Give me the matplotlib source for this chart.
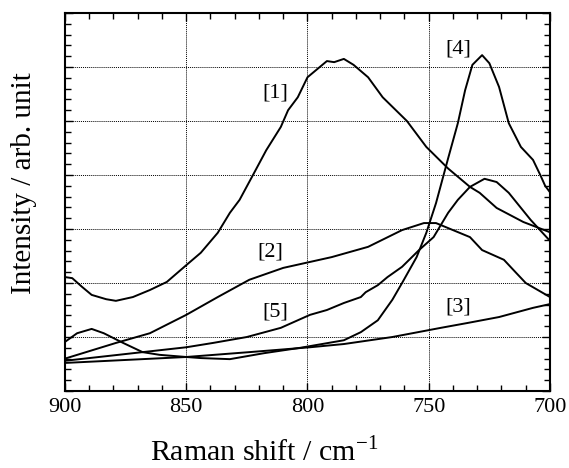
import matplotlib
matplotlib.use("Agg")
import matplotlib.pyplot as plt
from matplotlib.ticker import MultipleLocator, NullFormatter

plt.rcParams['font.family'] = ['Liberation Serif', 'DejaVu Serif']
plt.rcParams['mathtext.fontset'] = 'custom'
plt.rcParams['mathtext.rm'] = 'Liberation Serif'

# ---- data (Raman shift in cm-1, intensity in arb. units) ----
x1 = [900, 897, 893, 889, 883, 879, 872, 865, 858, 850, 844, 837, 832, 828, 822, 817,
      811, 808, 804, 800, 792, 789, 785, 781, 775, 769, 759, 751, 742, 733, 729, 722, 711, 700]
y1 = [2.11, 2.09, 1.93, 1.78, 1.70, 1.67, 1.74, 1.87, 2.02, 2.33, 2.56, 2.93, 3.30, 3.54, 4.04, 4.46,
      4.89, 5.20, 5.44, 5.81, 6.11, 6.09, 6.15, 6.04, 5.81, 5.44, 5.00, 4.52, 4.12, 3.78, 3.67, 3.39, 3.13, 2.94]

x2 = [900, 879, 865, 850, 837, 824, 810, 799, 790, 775, 761, 752, 747, 740, 733, 728, 719, 714, 710, 700]
y2 = [0.60, 0.89, 1.07, 1.41, 1.74, 2.06, 2.28, 2.39, 2.48, 2.67, 2.98, 3.11, 3.11, 2.98, 2.85, 2.61, 2.43, 2.19, 2.00, 1.74]

x3 = [900, 850, 824, 799, 785, 765, 745, 734, 721, 707, 700]
y3 = [0.52, 0.63, 0.72, 0.81, 0.87, 1.00, 1.17, 1.26, 1.37, 1.54, 1.61]

x4 = [900, 895, 889, 884, 876, 868, 861, 850, 844, 832, 818, 803, 785, 778, 771, 765, 761, 755, 751,
      747, 742, 738, 735, 732, 728, 725, 721, 717, 712, 707, 704, 702, 700]
y4 = [0.91, 1.07, 1.15, 1.07, 0.89, 0.72, 0.67, 0.63, 0.61, 0.59, 0.70, 0.80, 0.94, 1.09, 1.31, 1.69, 2.00, 2.48, 2.93,
      3.48, 4.31, 4.96, 5.57, 6.04, 6.22, 6.07, 5.63, 4.96, 4.52, 4.28, 4.00, 3.80, 3.68]

x5 = [900, 850, 839, 825, 811, 799, 792, 785, 778, 776, 771, 767, 761, 754, 748, 742, 738, 733, 727, 722, 717, 708, 700]
y5 = [0.56, 0.81, 0.89, 1.00, 1.17, 1.41, 1.50, 1.63, 1.74, 1.83, 1.96, 2.11, 2.30, 2.61, 2.85, 3.30, 3.54, 3.78, 3.93, 3.87, 3.67, 3.17, 2.78]

labels = ['[1]', '[2]', '[3]', '[4]', '[5]']
label_x = [813.4, 815.5, 738.0, 738.0, 813.4]
label_y = [5.52, 2.57, 1.56, 6.33, 1.46]

xticks = [900, 850, 800, 750, 700]

# ---- figure ----
fig = plt.figure(figsize=(5.69, 4.68), dpi=100)
ax = fig.add_axes([0.1142, 0.1645, 0.8524, 0.8077])

for xs, ys in [(x1, y1), (x2, y2), (x3, y3), (x4, y4), (x5, y5)]:
    ax.plot(xs, ys, color='black', lw=1.4, solid_joinstyle='round')

for t, lx, ly in zip(labels, label_x, label_y):
    ax.text(lx, ly, t, fontsize=16, ha='center', va='center')

ax.set_xlim(900, 700)
ax.set_ylim(0, 7)
ax.set_xticks(xticks)
ax.set_xticklabels([str(v) for v in xticks])
ax.xaxis.set_minor_locator(MultipleLocator(10))
ax.yaxis.set_major_locator(MultipleLocator(1))
ax.yaxis.set_minor_locator(MultipleLocator(0.2))
ax.yaxis.set_major_formatter(NullFormatter())

ax.tick_params(which='both', direction='in', top=True, right=True, colors='black')
ax.tick_params(which='major', length=6, width=1.0, labelsize=16, pad=5)
ax.tick_params(which='minor', length=4, width=1.0)

ax.grid(True, which='major', color='black', linestyle=(0, (1, 1)), linewidth=0.7)
for s in ax.spines.values():
    s.set_linewidth(1.5)

ax.set_xlabel(r'Raman shift / cm$^{\mathregular{-1}}$', fontsize=21.5)
ax.xaxis.set_label_coords(0.41, -0.122)
ax.set_ylabel('Intensity / arb. unit', fontsize=21)
ax.yaxis.set_label_coords(-0.058, 0.55)

fig.savefig('out.png', dpi=100)
